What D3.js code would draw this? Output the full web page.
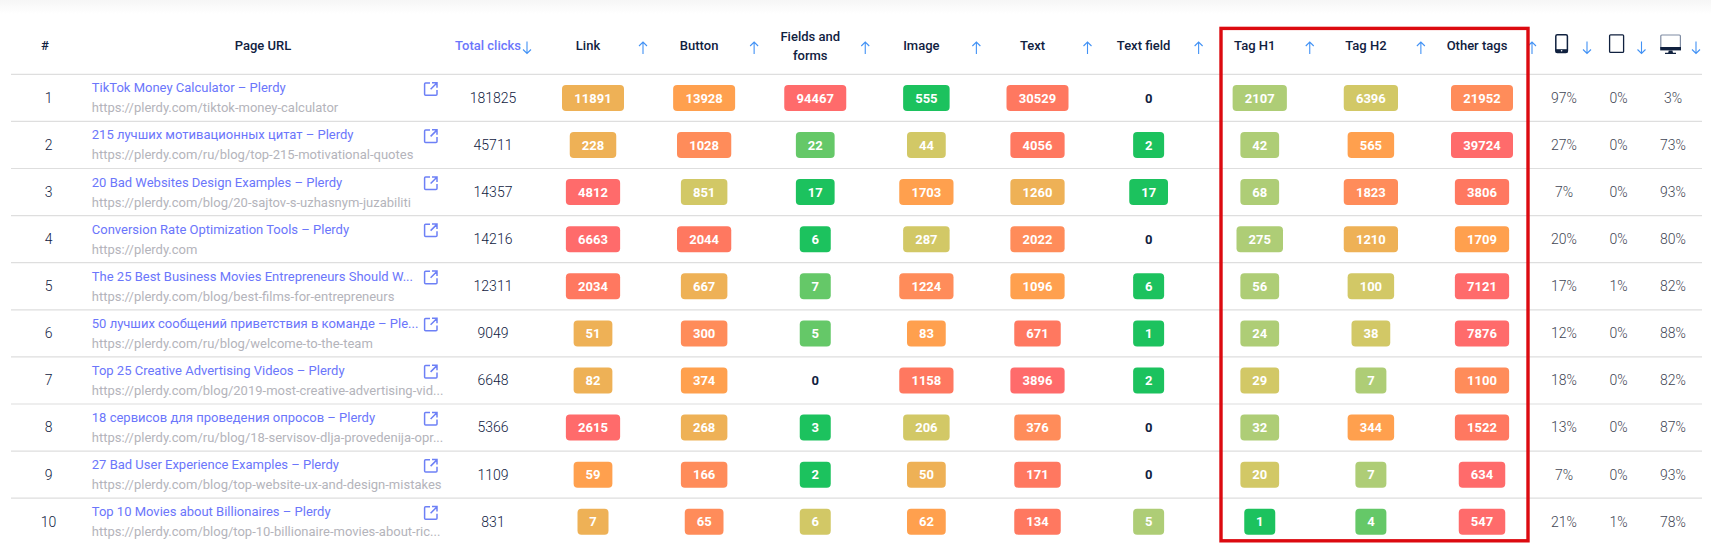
<!DOCTYPE html>
<html>
<head>
<meta charset="utf-8">
<script src="https://cdn.jsdelivr.net/npm/d3@7"></script>
<style>
    html, body { margin: 0; padding: 0; background: #fff; }
    svg { display: block; font-family: Roboto, sans-serif; }
</style>
</head>
<body>
<script>
(function() {
    var w = 1711;
    var h = 555;

    var pageTitles = [
        "TikTok Money Calculator – Plerdy",
        "215 лучших мотивационных цитат – Plerdy",
        "20 Bad Websites Design Examples – Plerdy",
        "Conversion Rate Optimization Tools – Plerdy",
        "The 25 Best Business Movies Entrepreneurs Should W...",
        "50 лучших сообщений приветствия в команде – Ple...",
        "Top 25 Creative Advertising Videos – Plerdy",
        "18 сервисов для проведения опросов – Plerdy",
        "27 Bad User Experience Examples – Plerdy",
        "Top 10 Movies about Billionaires – Plerdy"
    ];
    var pageUrls = [
        "https://plerdy.com/tiktok-money-calculator",
        "https://plerdy.com/ru/blog/top-215-motivational-quotes",
        "https://plerdy.com/blog/20-sajtov-s-uzhasnym-juzabiliti",
        "https://plerdy.com",
        "https://plerdy.com/blog/best-films-for-entrepreneurs",
        "https://plerdy.com/ru/blog/welcome-to-the-team",
        "https://plerdy.com/blog/2019-most-creative-advertising-vid...",
        "https://plerdy.com/ru/blog/18-servisov-dlja-provedenija-opr...",
        "https://plerdy.com/blog/top-website-ux-and-design-mistakes",
        "https://plerdy.com/blog/top-10-billionaire-movies-about-ric..."
    ];
    var totalClicks = [181825, 45711, 14357, 14216, 12311, 9049, 6648, 5366, 1109, 831];

    var clickColumns = ["Link", "Button", "Fields and forms", "Image", "Text", "Text field", "Tag H1", "Tag H2", "Other tags"];
    var linkClicks = [11891, 228, 4812, 6663, 2034, 51, 82, 2615, 59, 7];
    var buttonClicks = [13928, 1028, 851, 2044, 667, 300, 374, 268, 166, 65];
    var fieldClicks = [94467, 22, 17, 6, 7, 5, 0, 3, 2, 6];
    var imageClicks = [555, 44, 1703, 287, 1224, 83, 1158, 206, 50, 62];
    var textClicks = [30529, 4056, 1260, 2022, 1096, 671, 3896, 376, 171, 134];
    var textFieldClicks = [0, 2, 17, 0, 6, 1, 2, 0, 0, 5];
    var h1Clicks = [2107, 42, 68, 275, 56, 24, 29, 32, 20, 1];
    var h2Clicks = [6396, 565, 1823, 1210, 100, 38, 7, 344, 7, 4];
    var otherClicks = [21952, 39724, 3806, 1709, 7121, 7876, 1100, 1522, 634, 547];
    var clickValues = [linkClicks, buttonClicks, fieldClicks, imageClicks, textClicks, textFieldClicks, h1Clicks, h2Clicks, otherClicks];

    var deviceColumns = ["mobile", "tablet", "desktop"];
    var mobileShare = [97, 27, 7, 20, 17, 12, 18, 13, 7, 21];
    var tabletShare = [0, 0, 0, 0, 1, 0, 0, 0, 0, 1];
    var desktopShare = [3, 73, 93, 80, 82, 88, 82, 87, 93, 78];
    var deviceValues = [mobileShare, tabletShare, desktopShare];

    var rankColors = ["#1cc25e", "#65c868", "#aecd76", "#d2c866", "#eeb156", "#ffa04e", "#ff8c5a", "#ff7860", "#ff6b6b"];

    var dark = "#10213f";
    var blue = "#6b76fb";
    var arrowBlue = "#4292f5";
    var rows = d3.range(pageTitles.length);

    //scales
    var rowScale = d3.scaleBand().domain(rows).range([74.3, 545.3]);
    var clickX = d3.scalePoint().domain(clickColumns).range([593, 1482]);
    var deviceX = d3.scalePoint().domain(deviceColumns).range([1564, 1673]);
    var rankColor = d3.scaleOrdinal().domain(d3.range(9)).range(rankColors);
    var badgeWidth = d3.scaleLinear().domain([1, 5]).range([31, 62]);

    //color of a badge is its rank within the row, smallest non zero is always green
    function rankInRow(row, value) {
        var sorted = clickValues.map(function(c) { return c[row]; }).sort(d3.ascending);
        var smallest = sorted.filter(function(v) { return v > 0; })[0];
        return value === smallest ? 0 : d3.bisectLeft(sorted, value);
    }

    var svg = d3.select("body").append("svg").attr("width", w).attr("height", h);

    //faint shadow at the top of the page
    var grad = svg.append("defs").append("linearGradient")
        .attr("id", "topShade").attr("x1", 0).attr("x2", 0).attr("y1", 0).attr("y2", 1);
    grad.append("stop").attr("offset", 0).attr("stop-color", "#f6f6f6");
    grad.append("stop").attr("offset", 1).attr("stop-color", "#ffffff");
    svg.append("rect").attr("width", w).attr("height", 14).attr("fill", "url(#topShade)");

    //row rules
    svg.selectAll("line.rule")
        .data(rows)
        .enter()
        .append("line")
        .attr("class", "rule")
        .attr("x1", 11)
        .attr("x2", 1702)
        .attr("y1", function(d) { return rowScale(d); })
        .attr("y2", function(d) { return rowScale(d); })
        .attr("stroke", "#dedede")
        .attr("stroke-width", 1.2);

    function headerText(x, y, label, color) {
        return svg.append("text")
            .attr("x", x)
            .attr("y", y)
            .attr("dy", ".36em")
            .attr("text-anchor", "middle")
            .attr("font-size", 13)
            .attr("font-weight", 500)
            .attr("fill", color || dark)
            .text(label);
    }

    function arrow(x, up) {
        var y0 = up ? 54 : 41.5;
        var y1 = up ? 42 : 53.5;
        var s = up ? 4 : -4;
        svg.append("path")
            .attr("d", "M" + x + "," + y0 + "L" + x + "," + y1 + "M" + (x - 4) + "," + (y1 + s) + "L" + x + "," + y1 + "L" + (x + 4) + "," + (y1 + s))
            .attr("fill", "none")
            .attr("stroke", arrowBlue)
            .attr("stroke-width", 1.1);
    }

    //header
    headerText(45, 45.7, "#");
    headerText(263, 45.7, "Page URL");
    svg.append("text")
        .attr("x", 521).attr("y", 45.7).attr("dy", ".36em")
        .attr("text-anchor", "end")
        .attr("font-size", 13).attr("font-weight", 500).attr("fill", blue)
        .text("Total clicks");
    arrow(527, false);

    clickColumns.forEach(function(c) {
        var x = clickX(c) - 5;
        if (c === "Fields and forms") {
            headerText(x, 36.3, "Fields and");
            headerText(x, 55.7, "forms");
        } else {
            headerText(x, 45.7, c);
        }
        arrow(clickX(c) + 50, true);
    });

    deviceColumns.forEach(function(c) { arrow(deviceX(c) + 23, false); });

    //device icons
    var icons = svg.append("g").attr("fill", "none").attr("stroke", dark);
    icons.append("rect").attr("x", 1555.8).attr("y", 34.8).attr("width", 11.6).attr("height", 17.6).attr("rx", 1.5).attr("stroke-width", 1.5);
    icons.append("rect").attr("x", 1555.8).attr("y", 49.2).attr("width", 11.6).attr("height", 3.2).attr("fill", dark).attr("stroke", "none");
    icons.append("circle").attr("cx", 1561.6).attr("cy", 50.8).attr("r", 0.8).attr("fill", "#fff").attr("stroke", "none");
    icons.append("rect").attr("x", 1609.6).attr("y", 34.8).attr("width", 14).attr("height", 17.6).attr("rx", 1).attr("stroke-width", 1.3);
    icons.append("rect").attr("x", 1660.8).attr("y", 35).attr("width", 19.6).attr("height", 13.5).attr("rx", 1).attr("stroke", "#7f8ca3").attr("stroke-width", 1.2);
    icons.append("rect").attr("x", 1660.2).attr("y", 47).attr("width", 20.8).attr("height", 3.4).attr("fill", dark).attr("stroke", "none");
    icons.append("path").attr("d", "M1668.8,50.4L1672.4,50.4L1673,52.8L1676,52.8L1676,54L1665,54L1665,52.8L1668.2,52.8Z").attr("fill", dark).attr("stroke", "none");

    //one group per table row
    var rowG = svg.selectAll("g.row")
        .data(rows)
        .enter()
        .append("g")
        .attr("class", "row")
        .attr("transform", function(d) { return "translate(0," + rowScale(d) + ")"; });

    rowG.append("text")
        .attr("x", 48.6).attr("y", 23.4).attr("dy", ".36em")
        .attr("text-anchor", "middle")
        .attr("font-size", 14).attr("font-weight", 300).attr("fill", dark)
        .text(function(d) { return d + 1; });

    rowG.append("text")
        .attr("x", 91.8).attr("y", 13.4).attr("dy", ".36em")
        .attr("font-size", 13).attr("font-weight", 400).attr("fill", blue)
        .text(function(d) { return pageTitles[d]; });

    rowG.append("text")
        .attr("x", 91.8).attr("y", 33.4).attr("dy", ".36em")
        .attr("font-size", 13).attr("fill", "#b4b4bb")
        .text(function(d) { return pageUrls[d]; });

    //external link icon
    rowG.append("path")
        .attr("d", "M430,8.6L425.6,8.6Q424.6,8.6 424.6,9.6L424.6,20Q424.6,21 425.6,21L436,21Q437,21 437,20L437,15.6M430.6,15L436.6,9M432,8.4L437,8.4L437,13.4")
        .attr("fill", "none")
        .attr("stroke", "#6d80f6")
        .attr("stroke-width", 1.5);

    rowG.append("text")
        .attr("x", 493).attr("y", 23.4).attr("dy", ".36em")
        .attr("text-anchor", "middle")
        .attr("font-size", 14).attr("font-weight", 300).attr("fill", dark)
        .text(function(d) { return totalClicks[d]; });

    //click badges
    clickColumns.forEach(function(c, ci) {
        var cell = rowG.append("g")
            .attr("transform", "translate(" + clickX(c) + ",0)");

        cell.filter(function(d) { return clickValues[ci][d] > 0; })
            .append("rect")
            .attr("x", function(d) { return -badgeWidth(String(clickValues[ci][d]).length) / 2; })
            .attr("y", 10.6)
            .attr("width", function(d) { return badgeWidth(String(clickValues[ci][d]).length); })
            .attr("height", 26)
            .attr("rx", 4)
            .attr("fill", function(d) { return rankColor(rankInRow(d, clickValues[ci][d])); });

        cell.append("text")
            .attr("y", 23.6)
            .attr("dy", ".36em")
            .attr("text-anchor", "middle")
            .attr("font-size", 13)
            .attr("font-weight", 700)
            .attr("fill", function(d) { return clickValues[ci][d] > 0 ? "#fff" : dark; })
            .text(function(d) { return clickValues[ci][d]; });
    });

    //device shares
    deviceColumns.forEach(function(c, ci) {
        rowG.append("text")
            .attr("x", deviceX(c))
            .attr("y", 23.4)
            .attr("dy", ".36em")
            .attr("text-anchor", "middle")
            .attr("font-size", 14)
            .attr("font-weight", 300)
            .attr("fill", "#3f4654")
            .text(function(d) { return deviceValues[ci][d] + "%"; });
    });

    //red highlight box
    svg.append("rect")
        .attr("x", 1221)
        .attr("y", 28.4)
        .attr("width", 307)
        .attr("height", 512.4)
        .attr("fill", "none")
        .attr("stroke", "#dc0a10")
        .attr("stroke-width", 3.4);
})();
</script>
</body>
</html>
